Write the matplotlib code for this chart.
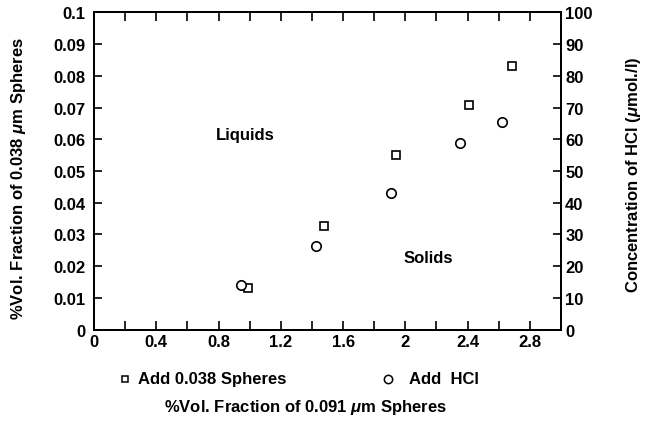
import matplotlib
matplotlib.use("Agg")
import matplotlib.pyplot as plt
from matplotlib.ticker import MultipleLocator

plt.rcParams['font.family'] = ['Liberation Sans', 'DejaVu Sans']
plt.rcParams['font.weight'] = 'bold'
plt.rcParams['mathtext.fontset'] = 'custom'
plt.rcParams['mathtext.it'] = 'Liberation Sans:italic'

# Data
sq_x = [0.987, 1.477, 1.94, 2.41, 2.683]          # %Vol 0.091 um spheres
sq_y = [0.0131, 0.0326, 0.0550, 0.0709, 0.0832]   # %Vol 0.038 um spheres
ci_x = [0.944, 1.426, 1.905, 2.351, 2.622]
ci_y = [14.1, 26.4, 43.1, 58.8, 65.3]             # HCl umol/l

x_ticks = [0, 0.4, 0.8, 1.2, 1.6, 2.0, 2.4, 2.8]
x_tick_labels = ['0', '0.4', '0.8', '1.2', '1.6', '2', '2.4', '2.8']
left_ticks = [0, 0.01, 0.02, 0.03, 0.04, 0.05, 0.06, 0.07, 0.08, 0.09, 0.1]
left_labels = ['0', '0.01', '0.02', '0.03', '0.04', '0.05', '0.06', '0.07', '0.08', '0.09', '0.1']
right_ticks = [0, 10, 20, 30, 40, 50, 60, 70, 80, 90, 100]

fig = plt.figure(figsize=(6.54, 4.27), dpi=100)
ax = fig.add_axes([94/654, 1 - 330.7/427, (561 - 94)/654, (330.7 - 13.3)/427])
ax2 = ax.twinx()

ax.set_xlim(0, 3.0)
ax.set_ylim(0, 0.1)
ax2.set_ylim(0, 100)

fs = 12
ax.set_xticks(x_ticks)
ax.set_xticklabels(x_tick_labels, fontsize=fs, fontweight='bold')
ax.xaxis.set_minor_locator(MultipleLocator(0.2))
ax.set_yticks(left_ticks)
ax.set_yticklabels(left_labels, fontsize=fs, fontweight='bold')
ax2.set_yticks(right_ticks)
ax2.set_yticklabels([str(t) for t in right_ticks], fontsize=fs, fontweight='bold')

for a in (ax, ax2):
    for s in a.spines.values():
        s.set_linewidth(1.4)
ax.tick_params(axis='x', which='both', direction='in', length=6.5, width=1.2, top=True, pad=3)
ax.tick_params(axis='y', which='both', direction='in', length=6, width=1.2, pad=6)
ax2.tick_params(axis='y', which='both', direction='in', length=6, width=1.2, pad=3)

ax.plot(sq_x, sq_y, linestyle='none', marker='s', markersize=5.5,
        markerfacecolor='white', markeredgecolor='black', markeredgewidth=1.2, zorder=5)
ax2.plot(ci_x, ci_y, linestyle='none', marker='o', markersize=6.8,
         markerfacecolor='white', markeredgecolor='black', markeredgewidth=1.2, zorder=5)

ax.text(0.97, 0.0614, 'Liquids', fontsize=fs, fontweight='bold', ha='center', va='center')
ax.text(2.145, 0.0229, 'Solids', fontsize=fs, fontweight='bold', ha='center', va='center')

ax.set_ylabel(r'%Vol. Fraction of 0.038 $\mu$m Spheres', fontsize=fs, fontweight='bold')
ax.yaxis.set_label_coords((28 - 94) / 467, 0.48)
ax2.set_ylabel(r'Concentration of HCl ($\mu$mol./l)', fontsize=fs, fontweight='bold')
ax2.yaxis.set_label_coords((624 - 94) / 467, 0.49)

# legend-like labels below axes
fig.text(305/654, 1 - 408/427, r'%Vol. Fraction of 0.091 $\mu$m Spheres', fontsize=fs,
         fontweight='bold', ha='center', va='center')
fig.lines.append(plt.Line2D([125/654], [1 - 380/427], marker='s', markersize=5,
                            markerfacecolor='white', markeredgecolor='black', markeredgewidth=1.1,
                            linestyle='none', transform=fig.transFigure))
fig.text(138/654, 1 - 380/427, 'Add 0.038 Spheres', fontsize=fs, fontweight='bold', ha='left', va='center')
fig.lines.append(plt.Line2D([388/654], [1 - 380/427], marker='o', markersize=6,
                            markerfacecolor='white', markeredgecolor='black', markeredgewidth=1.1,
                            linestyle='none', transform=fig.transFigure))
fig.text(409/654, 1 - 380/427, 'Add  HCl', fontsize=fs, fontweight='bold', ha='left', va='center')

fig.savefig('out.png', dpi=100)
